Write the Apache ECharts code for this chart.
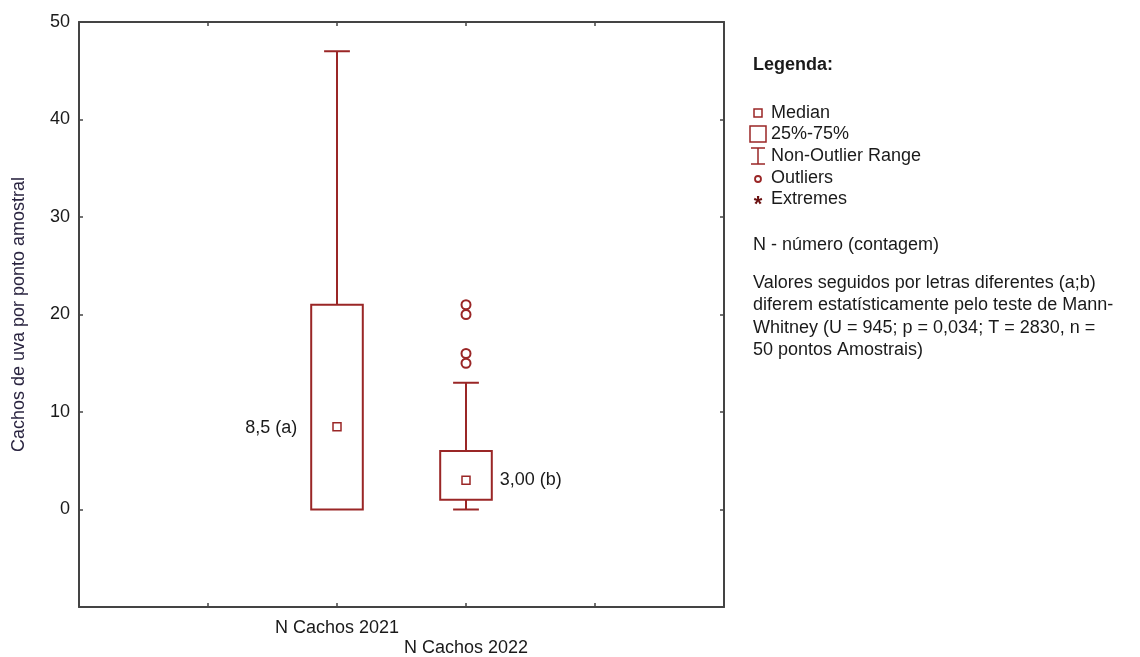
<!DOCTYPE html>
<html>
<head>
<meta charset="utf-8">
<script src="https://cdn.jsdelivr.net/npm/echarts@6/dist/echarts.min.js"></script>
<style>
html,body{margin:0;padding:0;background:#fff;}
#chart{width:1140px;height:657px;}
</style>
</head>
<body>
<div id="chart"></div>
<script>
// ---- data ----
const categories = ['N Cachos 2021', 'N Cachos 2022'];
const whiskerLow = [0, 0];
const q1 = [0, 1];
const median = [8.5, 3];
const q3 = [21, 6];
const whiskerHigh = [47, 13];
const outlierCategory = 'N Cachos 2022';
const outliers = [21, 20, 16, 15];
const medianLabels = ['8,5 (a)', '3,00 (b)'];
const labelSide = ['left', 'right'];
const yTicks = { min: -10, max: 50, interval: 10 };
const yTitle = 'Cachos de uva por ponto amostral';
const legendItems = ['Median', '25%-75%', 'Non-Outlier Range', 'Outliers', 'Extremes'];
const noteLines = ['Valores seguidos por letras diferentes (a;b)', 'diferem estatísticamente pelo teste de Mann-', 'Whitney (U = 945; p = 0,034; T = 2830, n =', '50 pontos Amostrais)'];

// ---- styling ----
const RED = '#9a2626';
const TXT = '#1a1a1a';
const FRAME = '#444';
const FONT = 'Liberation Sans, Arial, sans-serif';
const axisCats = ['', ' '].concat(categories, ['  ', '   ']);

const chart = echarts.init(document.getElementById('chart'), null, { renderer: 'canvas' });

const boxData = categories.map((c, i) => [c, whiskerLow[i], q1[i], median[i], q3[i], whiskerHigh[i], i]);

function renderBox(params, api) {
  const cat = api.value(0);
  const pLow = api.coord([cat, api.value(1)]);
  const pQ1 = api.coord([cat, api.value(2)]);
  const pMed = api.coord([cat, api.value(3)]);
  const pQ3 = api.coord([cat, api.value(4)]);
  const pHigh = api.coord([cat, api.value(5)]);
  const idx = api.value(6);
  const slot = api.size([1, 0])[0];
  const bw = slot * 0.4, cw = slot * 0.2;
  const x = pLow[0];
  const ls = { stroke: RED, lineWidth: 2, fill: null };
  const children = [
    { type: 'line', shape: { x1: x, y1: pQ3[1], x2: x, y2: pHigh[1] }, style: ls },
    { type: 'line', shape: { x1: x - cw / 2, y1: pHigh[1], x2: x + cw / 2, y2: pHigh[1] }, style: ls }
  ];
  if (api.value(1) < api.value(2)) {
    children.push({ type: 'line', shape: { x1: x, y1: pLow[1], x2: x, y2: pQ1[1] }, style: ls });
    children.push({ type: 'line', shape: { x1: x - cw / 2, y1: pLow[1], x2: x + cw / 2, y2: pLow[1] }, style: ls });
  }
  children.push({ type: 'rect', shape: { x: x - bw / 2, y: pQ3[1], width: bw, height: pQ1[1] - pQ3[1] }, style: { stroke: RED, lineWidth: 2, fill: '#fff' } });
  children.push({ type: 'rect', shape: { x: x - 4, y: pMed[1] - 4, width: 8, height: 8 }, style: { stroke: RED, lineWidth: 1.5, fill: '#fff' } });
  const left = labelSide[idx] === 'left';
  children.push({
    type: 'text',
    style: {
      text: medianLabels[idx],
      x: left ? x - bw / 2 - 14 : x + bw / 2 + 8,
      y: pMed[1] + (left ? 1 : 0),
      align: left ? 'right' : 'left',
      verticalAlign: 'middle',
      fill: TXT,
      font: '18px ' + FONT
    }
  });
  return { type: 'group', children };
}

// legend graphics
const lx = 758;
const legendY = [113, 134, 156, 178, 199];
const g = [];
g.push({ type: 'text', left: 753, top: 56, style: { text: 'Legenda:', fill: TXT, font: 'bold 18px ' + FONT } });
g.push({ type: 'rect', shape: { x: lx - 4, y: legendY[0] - 4, width: 8, height: 8 }, style: { stroke: RED, lineWidth: 1.5, fill: '#fff' } });
g.push({ type: 'rect', shape: { x: lx - 8, y: legendY[1] - 8, width: 16, height: 16 }, style: { stroke: RED, lineWidth: 1.5, fill: '#fff' } });
g.push({ type: 'polyline', shape: { points: [[lx - 7, legendY[2] - 8], [lx + 7, legendY[2] - 8]] }, style: { stroke: RED, lineWidth: 1.5 } });
g.push({ type: 'polyline', shape: { points: [[lx - 7, legendY[2] + 8], [lx + 7, legendY[2] + 8]] }, style: { stroke: RED, lineWidth: 1.5 } });
g.push({ type: 'polyline', shape: { points: [[lx, legendY[2] - 8], [lx, legendY[2] + 8]] }, style: { stroke: RED, lineWidth: 1.5 } });
g.push({ type: 'circle', shape: { cx: lx, cy: legendY[3] + 1, r: 3 }, style: { stroke: RED, lineWidth: 1.8, fill: '#fff' } });
g.push({ type: 'text', style: { text: '*', x: lx, y: legendY[4] + 6, align: 'center', verticalAlign: 'middle', fill: '#6a1010', font: 'bold 22px ' + FONT } });
legendItems.forEach((t, i) => {
  g.push({ type: 'text', style: { text: t, x: 771, y: legendY[i], verticalAlign: 'middle', fill: TXT, font: '18px ' + FONT } });
});
g.push({ type: 'text', style: { text: 'N - número (contagem)', x: 753, y: 245, verticalAlign: 'middle', fill: TXT, font: '18px ' + FONT } });
noteLines.forEach((t, i) => {
  g.push({ type: 'text', style: { text: t, x: 753, y: 283 + i * 22.5, verticalAlign: 'middle', fill: TXT, font: '18px ' + FONT } });
});

const frameLine = { show: true, onZero: false, lineStyle: { color: FRAME, width: 2 } };
const frameTick = { show: true, inside: true, length: 4, lineStyle: { color: FRAME, width: 1.5 } };

const option = {
  animation: false,
  backgroundColor: '#fff',
  grid: { left: 79, right: 416, top: 22, bottom: 50, containLabel: false, outerBoundsMode: 'none' },
  xAxis: [
    {
      type: 'category', data: axisCats, boundaryGap: false, position: 'bottom',
      axisLine: frameLine,
      axisTick: Object.assign({ interval: 0 }, frameTick),
      axisLabel: {
        interval: 0, margin: 11, color: TXT, fontSize: 18, fontFamily: FONT, lineHeight: 20,
        formatter: (v) => (categories.indexOf(v) === 1 ? '\n' + v : v)
      },
      splitLine: { show: false }
    },
    {
      type: 'category', data: axisCats, boundaryGap: false, position: 'top',
      axisLine: frameLine,
      axisTick: Object.assign({ interval: 0 }, frameTick),
      axisLabel: { show: false }, splitLine: { show: false }
    }
  ],
  yAxis: [
    {
      type: 'value', min: yTicks.min, max: yTicks.max, interval: yTicks.interval, position: 'left',
      name: yTitle, nameLocation: 'middle', nameGap: 51, nameRotate: 90,
      nameTextStyle: { color: '#2a2440', fontSize: 18, fontFamily: FONT },
      axisLine: frameLine,
      axisTick: frameTick,
      axisLabel: { margin: 9, color: TXT, fontSize: 18, fontFamily: FONT, formatter: v => (v < 0 ? '' : String(v)) },
      splitLine: { show: false }
    },
    {
      type: 'value', min: yTicks.min, max: yTicks.max, interval: yTicks.interval, position: 'right',
      axisLine: frameLine,
      axisTick: frameTick,
      axisLabel: { show: false }, splitLine: { show: false }
    }
  ],
  series: [
    {
      type: 'custom', renderItem: renderBox, data: boxData,
      encode: { x: 0, y: [1, 2, 3, 4, 5] }, z: 5
    },
    {
      type: 'scatter', data: outliers.map(v => [outlierCategory, v]),
      symbol: 'emptyCircle', symbolSize: 9,
      itemStyle: { color: RED, borderColor: RED, borderWidth: 2, opacity: 1 }, z: 6
    }
  ],
  graphic: g
};
chart.setOption(option);
</script>
</body>
</html>
